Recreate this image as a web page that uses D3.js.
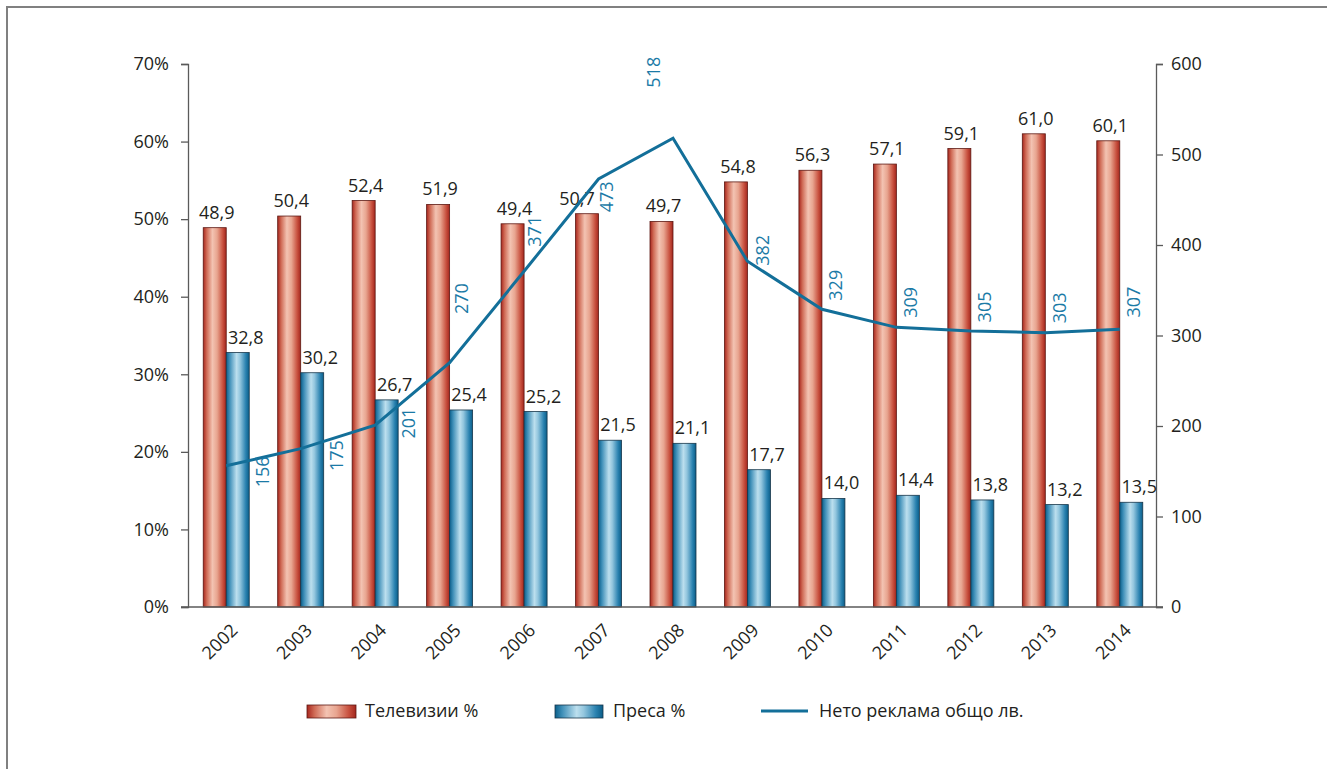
<!DOCTYPE html>
<html>
<head>
<meta charset="utf-8">
<script src="https://cdn.jsdelivr.net/npm/d3@7"></script>
<style>
  html, body { margin: 0; padding: 0; background: #fff; }
  svg { display: block; font-family: "Open Sans", "Noto Sans", sans-serif; }
</style>
</head>
<body>
<svg id="chart" width="1327" height="769"></svg>
<script>
// Advertising market shares and net total, 2002–2014
const years = ["2002","2003","2004","2005","2006","2007","2008","2009","2010","2011","2012","2013","2014"];
const tvShare = [48.9, 50.4, 52.4, 51.9, 49.4, 50.7, 49.7, 54.8, 56.3, 57.1, 59.1, 61.0, 60.1];
const pressShare = [32.8, 30.2, 26.7, 25.4, 25.2, 21.5, 21.1, 17.7, 14.0, 14.4, 13.8, 13.2, 13.5];
const netTotal = [156, 175, 201, 270, 371, 473, 518, 382, 329, 309, 305, 303, 307];
const leftTicks = [0, 10, 20, 30, 40, 50, 60, 70];
const rightTicks = [0, 100, 200, 300, 400, 500, 600];
const seriesNames = ["Телевизии %", "Преса %", "Нето реклама общо лв."];

// Hand-placed offsets for the rotated net-total labels (relative to each point)
const netLabelOffsets = [[36,6],[36,7],[34,-2],[12,-64],[11,-40],[8,18],[-19,-66],[15,-11],[14,-24],[14,-25],[14,-24],[14,-25],[14,-27]];
// Horizontal nudges for the TV value labels (keeps 2007 clear of the line label)
const tvLabelNudge = [2, 2, 2, 2, 2, -10, 2, 2, 2, 2, 2, 2, 2];

const svg = d3.select("#chart");
const plotLeft = 188, plotRight = 1156, plotTop = 64, plotBottom = 607;
const axisColor = "#5a5a5a";
const textColor = "#231f20";
const lineColor = "#136f99";
const lineLabelColor = "#1b7aa6";

// Outer frame (top and left edges)
svg.append("path")
  .attr("d", "M7,769 L7,7 L1327,7")
  .attr("fill", "none").attr("stroke", "#808080").attr("stroke-width", 2);

// Gradients for the cylinder-style bars
const defs = svg.append("defs");
function barGradient(id, stops) {
  const g = defs.append("linearGradient").attr("id", id)
    .attr("x1", "0%").attr("x2", "100%").attr("y1", "0%").attr("y2", "0%");
  stops.forEach(([o, c]) => g.append("stop").attr("offset", o).attr("stop-color", c));
}
barGradient("gradTv", [["0%","#a8261e"],["15%","#cf6a55"],["40%","#f3c3b2"],["60%","#e8a590"],["85%","#c8513f"],["100%","#a3261d"]]);
barGradient("gradPress", [["0%","#0b5f8a"],["15%","#3f8fb8"],["45%","#bcdfee"],["60%","#93c6de"],["85%","#2a82b0"],["100%","#0a5d88"]]);

const x = d3.scaleBand().domain(years).range([plotLeft, plotRight]).paddingInner(0).paddingOuter(0);
const yL = d3.scaleLinear().domain([0, 70]).range([plotBottom, plotTop]);
const yR = d3.scaleLinear().domain([0, 600]).range([plotBottom, plotTop]);
const barW = 23;
const cx = d => x(d) + x.bandwidth() / 2 + 1;

// Axes
const fmtPct = d => d + "%";
const gL = svg.append("g").attr("transform", `translate(${plotLeft},0)`)
  .call(d3.axisLeft(yL).tickValues(leftTicks).tickFormat(fmtPct).tickSizeOuter(0).tickSize(7).tickPadding(12));
const gR = svg.append("g").attr("transform", `translate(${plotRight},0)`)
  .call(d3.axisRight(yR).tickValues(rightTicks).tickSizeOuter(0).tickSize(7).tickPadding(8));
[gL, gR].forEach(g => {
  g.select(".domain").attr("stroke", axisColor).attr("stroke-width", 1.3);
  g.selectAll(".tick line").attr("stroke", axisColor).attr("stroke-width", 1.3);
  g.selectAll(".tick text").attr("fill", textColor).style("font-size", "18px").style("font-family", "'Open Sans', sans-serif");
});

// Bars
const bars = svg.append("g");
bars.selectAll("rect.tv").data(years).join("rect").attr("class", "tv")
  .attr("x", d => cx(d) - barW).attr("width", barW)
  .attr("y", (d, i) => yL(tvShare[i])).attr("height", (d, i) => plotBottom - yL(tvShare[i]))
  .attr("fill", "url(#gradTv)").attr("stroke", "#5c1812").attr("stroke-width", 0.8);
bars.selectAll("rect.press").data(years).join("rect").attr("class", "press")
  .attr("x", d => cx(d)).attr("width", barW)
  .attr("y", (d, i) => yL(pressShare[i])).attr("height", (d, i) => plotBottom - yL(pressShare[i]))
  .attr("fill", "url(#gradPress)").attr("stroke", "#17364a").attr("stroke-width", 0.8);

// Category axis baseline
svg.append("line").attr("x1", plotLeft - 7).attr("x2", plotRight + 7).attr("y1", plotBottom).attr("y2", plotBottom)
  .attr("stroke", axisColor).attr("stroke-width", 1.5);

// Category labels, rotated
svg.append("g").selectAll("text").data(years).join("text")
  .attr("transform", d => `translate(${cx(d) + 8},${plotBottom + 20}) rotate(-45)`)
  .attr("text-anchor", "end").attr("dy", "0.35em")
  .attr("fill", textColor).style("font-size", "18px")
  .text(d => d);

// Bar value labels
const fmtVal = v => v.toFixed(1).replace(".", ",");
const labels = svg.append("g").attr("fill", textColor).style("font-size", "18px").attr("text-anchor", "middle");
labels.selectAll("text.tv").data(years).join("text").attr("class", "tv")
  .attr("x", (d, i) => cx(d) - barW / 2 + tvLabelNudge[i]).attr("y", (d, i) => yL(tvShare[i]) - 9)
  .text((d, i) => fmtVal(tvShare[i]));
labels.selectAll("text.press").data(years).join("text").attr("class", "press")
  .attr("x", d => cx(d) + barW / 2 + 8).attr("y", (d, i) => yL(pressShare[i]) - 9)
  .text((d, i) => fmtVal(pressShare[i]));

// Net total line
const line = d3.line().x((d, i) => cx(years[i])).y(d => yR(d));
svg.append("path").datum(netTotal).attr("d", line)
  .attr("fill", "none").attr("stroke", lineColor).attr("stroke-width", 3).attr("stroke-linejoin", "miter");

// Net total labels, rotated vertically
svg.append("g").selectAll("text").data(netTotal).join("text")
  .attr("transform", (d, i) => `translate(${cx(years[i]) + netLabelOffsets[i][0]},${yR(d) + netLabelOffsets[i][1]}) rotate(-90)`)
  .attr("text-anchor", "middle").attr("dy", "0.35em")
  .attr("fill", lineLabelColor).style("font-size", "18px")
  .text(d => d);

// Legend
const legend = svg.append("g").style("font-size", "18px").attr("fill", textColor);
const legendY = 711;
legend.append("rect").attr("x", 307).attr("y", legendY - 6).attr("width", 49).attr("height", 13)
  .attr("fill", "url(#gradTv)").attr("stroke", "#5c1812").attr("stroke-width", 0.8);
legend.append("text").attr("x", 365).attr("y", legendY).attr("dy", "0.35em").text(seriesNames[0]);
legend.append("rect").attr("x", 555).attr("y", legendY - 6).attr("width", 48).attr("height", 13)
  .attr("fill", "url(#gradPress)").attr("stroke", "#17364a").attr("stroke-width", 0.8);
legend.append("text").attr("x", 613).attr("y", legendY).attr("dy", "0.35em").text(seriesNames[1]);
legend.append("line").attr("x1", 761).attr("x2", 808).attr("y1", legendY).attr("y2", legendY)
  .attr("stroke", lineColor).attr("stroke-width", 3);
legend.append("text").attr("x", 819).attr("y", legendY).attr("dy", "0.35em").text(seriesNames[2]);
</script>
</body>
</html>
